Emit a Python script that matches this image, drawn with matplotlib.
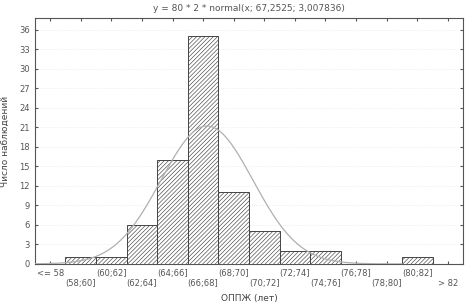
import numpy as np
import matplotlib.pyplot as plt

plt.rcParams['hatch.linewidth'] = 0.45
plt.rcParams['hatch.color'] = '#777777'

# категории и частоты
labels = ['<= 58', '(58;60]', '(60;62]', '(62;64]', '(64;66]', '(66;68]', '(68;70]',
          '(70;72]', '(72;74]', '(74;76]', '(76;78]', '(78;80]', '(80;82]', '> 82']
counts = [0, 1, 1, 6, 16, 35, 11, 5, 2, 2, 0, 0, 1, 0]
n_total = 80
bin_w = 2
mu = 67.2525
sigma = 3.007836

fig = plt.figure(figsize=(4.65, 3.03), dpi=100)
ax = fig.add_axes([0.075, 0.129, 0.921, 0.811])

pos = np.arange(len(labels))
ax.bar(pos, counts, width=1.0, facecolor='white', edgecolor='#444444',
       linewidth=0.7, hatch='////////', zorder=3)

# нормальная кривая; индекс i соответствует интервалу (56+2i; 58+2i]
xv = np.linspace(56, 80, 300)
yv = n_total * bin_w * np.exp(-(xv - mu) ** 2 / (2 * sigma ** 2)) / (sigma * np.sqrt(2 * np.pi))
ax.plot((xv - 57) / 2, yv, color='#b0b0b0', linewidth=0.9, zorder=4)

ax.set_xlim(-0.5, len(labels) - 0.5)
ax.set_ylim(0, 37.8)
ax.set_yticks(range(0, 37, 3))
ax.set_xticks(pos)
ax.set_xticklabels([l if i % 2 == 0 else '\n' + l for i, l in enumerate(labels)])
ax.tick_params(axis='both', labelsize=6, colors='#555555', direction='in', length=2)
ax.tick_params(axis='x', top=True, length=2)
ax.tick_params(axis='y', right=True)
ax.grid(axis='y', color='#e8e8e8', linestyle=':', linewidth=0.6, zorder=0)
for s in ax.spines.values():
    s.set_color('#555555')
    s.set_linewidth(0.8)

ax.set_xlabel('ОППЖ (лет)', fontsize=6.5, color='#444444', labelpad=4)
ax.set_ylabel('Число наблюдений', fontsize=6.5, color='#444444', labelpad=7)
ax.set_title('y = 80 * 2 * normal(x; 67,2525; 3,007836)', fontsize=6.5, color='#555555', pad=5)

fig.savefig('out.png', dpi=100, facecolor='white')
